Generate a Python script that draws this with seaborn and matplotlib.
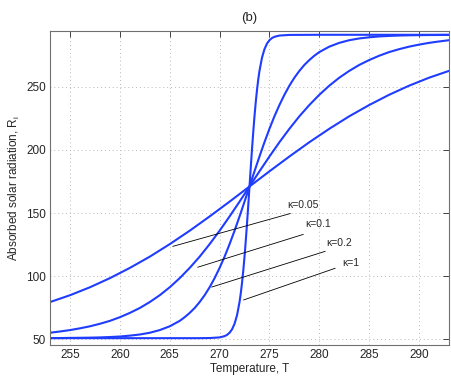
import numpy as np
import pandas as pd
import matplotlib
matplotlib.use("Agg")
import matplotlib.pyplot as plt
import seaborn as sns

# ---- data ----
T_k005 = [253, 255, 257, 259, 261, 263, 265, 267, 269, 271, 273, 275, 277, 279, 281, 283, 285, 287, 289, 291, 293]
R_k005 = [79.6, 85.0, 91.3, 98.5, 106.6, 115.5, 125.4, 136.0, 147.3, 159.0, 171.0,
          183.0, 194.7, 206.0, 216.6, 226.5, 235.4, 243.5, 250.7, 257.0, 262.4]

T_k01 = [253, 254, 255, 256, 257, 258, 259, 260, 261, 262, 263, 264, 265, 266, 267, 268, 269, 270, 271, 272, 273,
         274, 275, 276, 277, 278, 279, 280, 281, 282, 283, 284, 285, 286, 287, 288, 289, 290, 291, 292, 293]
R_k01 = [55.3, 56.3, 57.4, 58.8, 60.4, 62.4, 64.7, 67.6, 71.0, 74.9, 79.6, 85.0, 91.3, 98.5, 106.6, 115.5,
         125.4, 136.0, 147.3, 159.0, 171.0,
         183.0, 194.7, 206.0, 216.6, 226.5, 235.4, 243.5, 250.7, 257.0, 262.4, 267.1, 271.0, 274.4, 277.3,
         279.6, 281.6, 283.2, 284.6, 285.7, 286.7]

T_k02 = [253, 254, 255, 256, 257, 258, 259, 260, 261, 262, 263, 264, 265, 266, 266.5, 267, 267.5, 268, 268.5,
         269, 269.5, 270, 270.5, 271, 271.5, 272, 272.5, 273,
         273.5, 274, 274.5, 275, 275.5, 276, 276.5, 277, 277.5, 278, 278.5, 279, 279.5, 280, 281, 282, 283, 284,
         285, 286, 287, 288, 289, 291, 293]
R_k02 = [51.1, 51.1, 51.2, 51.3, 51.4, 51.6, 51.9, 52.3, 53.0, 53.9, 55.3, 57.4, 60.4, 64.7, 67.6, 71.0, 74.9,
         79.6, 85.0, 91.3, 98.5, 106.6, 115.5, 125.4, 136.0, 147.3, 159.0, 171.0,
         183.0, 194.7, 206.0, 216.6, 226.5, 235.4, 243.5, 250.7, 257.0, 262.4, 267.1, 271.0, 274.4, 277.3,
         281.6, 284.6, 286.7, 288.1, 289.0, 289.7, 290.1, 290.4, 290.6, 290.8, 290.9]

T_k1 = [253, 260, 265, 268, 269, 270, 270.5, 270.75, 271, 271.25, 271.5, 271.75, 272, 272.125, 272.25, 272.375,
        272.5, 272.625, 272.75, 272.875, 273,
        273.125, 273.25, 273.375, 273.5, 273.625, 273.75, 273.875, 274, 274.25, 274.5, 274.75, 275, 275.25,
        275.5, 276, 277, 280, 285, 293]
R_k1 = [51.0, 51.0, 51.0, 51.0, 51.1, 51.6, 52.6, 53.6, 55.3, 58.0, 62.4, 69.2, 79.6, 86.5, 94.8, 104.4,
        115.5, 128.0, 141.6, 156.1, 171.0,
        185.9, 200.4, 214.0, 226.5, 237.6, 247.2, 255.5, 262.4, 272.8, 279.6, 284.0, 286.7, 288.4,
        289.4, 290.4, 290.9, 291.0, 291.0, 291.0]

xticks = [255, 260, 265, 270, 275, 280, 285, 290]
yticks = [50, 100, 150, 200, 250]

labels = ["κ=0.05", "κ=0.1", "κ=0.2", "κ=1"]
# annotation line start (on curve side) and end (near label), label anchor
ann_start = [(265.3, 123.6), (267.8, 107.1), (269.2, 91.4), (272.4, 81.2)]
ann_end = [(277.1, 149.6), (278.4, 133.1), (280.6, 119.7), (281.6, 106.3)]
ann_text = [(276.8, 156.5), (278.6, 141.0), (280.7, 126.0), (282.3, 110.3)]

# ---- plotting ----
sns.set_style("white")
plt.rcParams['font.family'] = ['Liberation Sans', 'DejaVu Sans']

fig = plt.figure(figsize=(4.52, 3.78), dpi=100)
ax = fig.add_axes([0.111, 0.087, 0.882, 0.831])

blue = "#1f3cff"
for T, R in [(T_k005, R_k005), (T_k01, R_k01), (T_k02, R_k02), (T_k1, R_k1)]:
    df = pd.DataFrame({"T": T, "R": R})
    sns.lineplot(data=df, x="T", y="R", ax=ax, color=blue, linewidth=1.5,
                 estimator=None, sort=False)

for (x0, y0), (x1, y1), (tx, ty), lab in zip(ann_start, ann_end, ann_text, labels):
    ax.plot([x0, x1], [y0, y1], color="black", linewidth=0.6)
    ax.text(tx, ty, lab, fontsize=7.5, ha="left", va="center")

ax.set_xlim(253, 293)
ax.set_ylim(45.5, 294)
ax.set_xticks(xticks)
ax.set_yticks(yticks)
ax.grid(True, linestyle=(0, (1, 3)), color="#b8b8b8", linewidth=0.7)
ax.tick_params(direction="in", length=4, width=0.6, labelsize=8.5, colors="#262626",
               top=True, right=True, pad=3)
for s in ax.spines.values():
    s.set_visible(True)
    s.set_color("#707070")
    s.set_linewidth(0.8)

ax.set_xlabel("Temperature, T", fontsize=8.5, labelpad=1)
ax.set_ylabel("Absorbed solar radiation, R$_\\mathregular{i}$", fontsize=8.5, labelpad=3)
ax.set_title("(b)", fontsize=9.5, pad=7)

fig.savefig("out.png", dpi=100)
